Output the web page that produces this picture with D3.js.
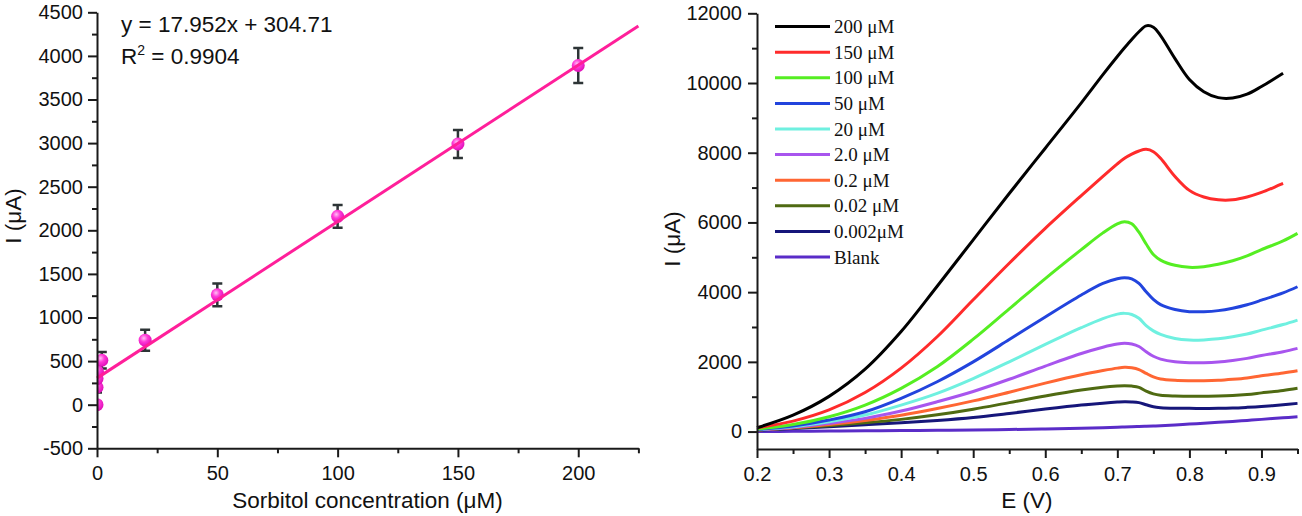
<!DOCTYPE html>
<html>
<head>
<meta charset="utf-8">
<script src="https://cdn.jsdelivr.net/npm/d3@7"></script>
<style>
  body { margin: 0; background: #fff; }
  svg { display: block; }
  .axis path, .axis line { stroke: #1a1a1a; stroke-width: 2; }
  .axis text { font-family: "Liberation Sans", Arial, sans-serif; font-size: 20px; fill: #111; }
  .title { font-family: "Liberation Sans", Arial, sans-serif; font-size: 22.5px; fill: #111; }
  .legend text { font-family: "Liberation Serif", "Times New Roman", serif; font-size: 19px; fill: #111; }
</style>
</head>
<body>
<svg id="chart"></svg>
<script>
// ---- calibration plot (left) ----
const concentrations = [0, 0.002, 0.02, 0.2, 2, 20, 50, 100, 150, 200]
const currents = [0, 200, 300, 380, 510, 740, 1260, 2160, 2990, 3890]
const currentErrors = [0, 60, 70, 80, 95, 120, 130, 130, 160, 200]
const fitSlope = 17.952
const fitIntercept = 304.71
const fitR2 = 0.9904
const concTicks = [0, 50, 100, 150, 200]
const currentTicks = [-500, 0, 500, 1000, 1500, 2000, 2500, 3000, 3500, 4000, 4500]

// ---- voltammograms (right) ----
const potentials = [0.20, 0.25, 0.30, 0.35, 0.40, 0.45, 0.50, 0.55, 0.60, 0.65, 0.68, 0.70, 0.71, 0.72, 0.73, 0.74, 0.75, 0.76, 0.78, 0.80, 0.82, 0.84, 0.86, 0.88, 0.90, 0.93, 0.95]
const seriesLabels = ['200 μM', '150 μM', '100 μM', '50 μM', '20 μM', '2.0 μM', '0.2 μM', '0.02 μM', '0.002μM', 'Blank']
const seriesColors = ['#000000', '#ff2b2b', '#55ee22', '#2244dd', '#6ff0e0', '#a855ee', '#ff6633', '#4f6a12', '#16167a', '#5a2cc8']
const i200 = [110, 470, 1010, 1790, 2870, 4170, 5500, 6830, 8130, 9430, 10240, 10760, 11010, 11250, 11470, 11640, 11600, 11360, 10700, 10100, 9750, 9580, 9570, 9680, 9900, 10280, null]
const i150 = [110, 300, 620, 1120, 1820, 2720, 3780, 4830, 5830, 6770, 7320, 7680, 7840, 7960, 8050, 8097, 8030, 7840, 7320, 6920, 6730, 6650, 6650, 6730, 6860, 7120, null]
const i100 = [70, 200, 425, 760, 1240, 1860, 2650, 3520, 4390, 5220, 5700, 5960, 6020, 5960, 5720, 5380, 5080, 4920, 4770, 4712, 4730, 4800, 4900, 5040, 5220, 5470, 5687]
const i50 = [60, 160, 330, 568, 953, 1430, 2000, 2640, 3290, 3920, 4250, 4385, 4413, 4380, 4250, 4010, 3790, 3640, 3500, 3440, 3440, 3470, 3540, 3640, 3770, 3980, 4155]
const i20 = [60, 140, 282, 473, 760, 1096, 1520, 2000, 2500, 2980, 3240, 3370, 3391, 3360, 3250, 3040, 2890, 2790, 2670, 2625, 2630, 2660, 2720, 2800, 2910, 3070, 3199]
const i2 = [55, 120, 235, 378, 588, 855, 1150, 1500, 1880, 2240, 2420, 2510, 2531, 2510, 2440, 2290, 2160, 2080, 2000, 1974, 1975, 1995, 2040, 2100, 2180, 2290, 2387]
const i02 = [50, 110, 200, 320, 470, 660, 880, 1130, 1390, 1630, 1750, 1820, 1842, 1830, 1780, 1670, 1570, 1510, 1470, 1458, 1458, 1470, 1500, 1540, 1600, 1680, 1745]
const i002 = [45, 100, 170, 250, 350, 480, 640, 830, 1020, 1190, 1270, 1305, 1314, 1305, 1270, 1160, 1080, 1040, 1020, 1015, 1015, 1020, 1035, 1065, 1110, 1180, 1240]
const i0002 = [40, 90, 140, 195, 252, 320, 405, 520, 645, 760, 815, 845, 855, 850, 830, 770, 710, 685, 668, 666, 665, 666, 675, 695, 720, 770, 809]
const iBlank = [0, 8, 15, 22, 30, 38, 45, 60, 75, 95, 110, 125, 130, 138, 145, 152, 160, 168, 190, 215, 240, 265, 290, 320, 350, 395, 425]
const seriesValues = [i200, i150, i100, i50, i20, i2, i02, i002, i0002, iBlank]
const potentialTicks = [0.2, 0.3, 0.4, 0.5, 0.6, 0.7, 0.8, 0.9]
const cvCurrentTicks = [0, 2000, 4000, 6000, 8000, 10000, 12000]

const svg = d3.select('#chart')
    .attr('width', 1302)
    .attr('height', 516)

function styleAxis(g) {
    g.attr('font-size', null).attr('font-family', null)
}

class CalibrationPlot {
    constructor(_svg) {
        this.svg = _svg
        this.initVis()
    }

    initVis() {
        let vis = this

        vis.xScale = d3.scaleLinear().domain([0, 225]).range([97, 638.4])
        vis.yScale = d3.scaleLinear().domain([-500, 4500]).range([448.3, 12.3])

        vis.chart = vis.svg.append('g')

        // marker gradient
        let grad = vis.svg.append('defs').append('radialGradient')
            .attr('id', 'ball')
            .attr('cx', '40%').attr('cy', '35%').attr('r', '65%')
        grad.append('stop').attr('offset', '0%').attr('stop-color', '#ffc2f4')
        grad.append('stop').attr('offset', '45%').attr('stop-color', '#ff3ad8')
        grad.append('stop').attr('offset', '100%').attr('stop-color', '#e010b8')

        vis.svg.select('defs').append('clipPath')
            .attr('id', 'leftClip')
            .append('rect')
                .attr('x', 97).attr('y', 0)
                .attr('width', 560).attr('height', 460)

        vis.renderVis()
    }

    renderVis() {
        let vis = this
        let pts = concentrations.map((c, i) => ({c: c, v: currents[i], e: currentErrors[i]}))

        // error bars
        let bars = vis.chart.append('g')
            .attr('clip-path', 'url(#leftClip)')
            .attr('stroke', '#2d3436')
            .attr('stroke-width', 2.5)
        bars.selectAll('.err')
            .data(pts.filter(d => d.e > 0))
            .join('path')
                .attr('class', 'err')
                .attr('fill', 'none')
                .attr('d', d => {
                    let x = vis.xScale(d.c), y0 = vis.yScale(d.v - d.e), y1 = vis.yScale(d.v + d.e)
                    return `M${x - 5},${y1}H${x + 5}M${x},${y1}V${y0}M${x - 5},${y0}H${x + 5}`
                })

        // markers
        vis.chart.append('g')
            .attr('clip-path', 'url(#leftClip)')
            .selectAll('circle')
            .data(pts)
            .join('circle')
                .attr('cx', d => vis.xScale(d.c))
                .attr('cy', d => vis.yScale(d.v))
                .attr('r', 6.5)
                .attr('fill', 'url(#ball)')

        // linear fit
        let fit = [0, 225].map(c => ({c: c, v: fitSlope * c + fitIntercept}))
        vis.chart.append('path')
            .datum(fit)
            .attr('fill', 'none')
            .attr('stroke', '#ff1f9a')
            .attr('stroke-width', 3)
            .attr('d', d3.line().x(d => vis.xScale(d.c)).y(d => vis.yScale(d.v)))

        // axes
        let minorY = d3.range(-250, 4500, 500)
        let minorX = [25, 75, 125, 175, 225]

        vis.chart.append('g')
            .attr('class', 'axis')
            .attr('transform', 'translate(0,448.3)')
            .call(d3.axisBottom(vis.xScale).tickValues(minorX).tickSize(5).tickSizeOuter(0).tickFormat(''))
            .call(styleAxis)
        vis.chart.append('g')
            .attr('class', 'axis')
            .attr('transform', 'translate(0,448.3)')
            .call(d3.axisBottom(vis.xScale).tickValues(concTicks).tickSize(9).tickSizeOuter(0).tickPadding(9).tickFormat(d => String(d)))
            .call(styleAxis)
            .call(g => g.select('.domain').remove())

        vis.chart.append('g')
            .attr('class', 'axis')
            .attr('transform', 'translate(97,0)')
            .call(d3.axisLeft(vis.yScale).tickValues(minorY).tickSize(5).tickSizeOuter(0).tickFormat(''))
            .call(styleAxis)
        vis.chart.append('g')
            .attr('class', 'axis')
            .attr('transform', 'translate(97,0)')
            .call(d3.axisLeft(vis.yScale).tickValues(currentTicks).tickSize(9).tickSizeOuter(0).tickPadding(5).tickFormat(d => String(d)))
            .call(styleAxis)
            .call(g => g.select('.domain').remove())

        // titles
        vis.chart.append('text')
            .attr('class', 'title')
            .attr('x', 367.5).attr('y', 508)
            .attr('text-anchor', 'middle')
            .text('Sorbitol concentration (μM)')
        vis.chart.append('text')
            .attr('class', 'title')
            .attr('transform', 'translate(21,216) rotate(-90)')
            .attr('text-anchor', 'middle')
            .text('I (μA)')

        // equation
        vis.chart.append('text')
            .attr('class', 'title')
            .attr('x', 121).attr('y', 32)
            .text(`y = ${fitSlope}x + ${fitIntercept}`)
        let r2 = vis.chart.append('text')
            .attr('class', 'title')
            .attr('x', 121).attr('y', 64)
        r2.append('tspan').text('R')
        r2.append('tspan').attr('dy', -9).attr('font-size', 14).text('2')
        r2.append('tspan').attr('dy', 9).text(` = ${fitR2}`)
    }
}

class VoltammogramPlot {
    constructor(_svg) {
        this.svg = _svg
        this.initVis()
    }

    initVis() {
        let vis = this

        vis.xScale = d3.scaleLinear().domain([0.2, 0.95]).range([757, 1297.5])
        vis.yScale = d3.scaleLinear().domain([-500, 12000]).range([449, 13.3])

        vis.chart = vis.svg.append('g')
        vis.renderVis()
    }

    renderVis() {
        let vis = this

        let series = seriesLabels.map((label, k) => ({
            label: label,
            color: seriesColors[k],
            values: potentials.map((e, i) => ({e: e, i: seriesValues[k][i]}))
        }))

        let line = d3.line()
            .defined(d => d.i !== null)
            .x(d => vis.xScale(d.e))
            .y(d => vis.yScale(d.i))
            .curve(d3.curveCatmullRom.alpha(0.5))

        // draw from blank upward so high curves sit on top
        vis.chart.selectAll('.curve')
            .data(series.slice().reverse())
            .join('path')
                .attr('class', 'curve')
                .attr('fill', 'none')
                .attr('stroke', d => d.color)
                .attr('stroke-width', 3)
                .attr('d', d => line(d.values))

        // axes
        let minorY = d3.range(1000, 12000, 2000)
        let minorX = [0.25, 0.35, 0.45, 0.55, 0.65, 0.75, 0.85, 0.95]

        vis.chart.append('g')
            .attr('class', 'axis')
            .attr('transform', 'translate(0,449)')
            .call(d3.axisBottom(vis.xScale).tickValues(minorX).tickSize(5).tickSizeOuter(0).tickFormat(''))
            .call(styleAxis)
        vis.chart.append('g')
            .attr('class', 'axis')
            .attr('transform', 'translate(0,449)')
            .call(d3.axisBottom(vis.xScale).tickValues(potentialTicks).tickSize(9).tickSizeOuter(0).tickPadding(9).tickFormat(d3.format('.1f')))
            .call(styleAxis)
            .call(g => g.select('.domain').remove())

        vis.chart.append('g')
            .attr('class', 'axis')
            .attr('transform', 'translate(757,0)')
            .call(d3.axisLeft(vis.yScale).tickValues(minorY).tickSize(5).tickSizeOuter(0).tickFormat(''))
            .call(styleAxis)
        vis.chart.append('g')
            .attr('class', 'axis')
            .attr('transform', 'translate(757,0)')
            .call(d3.axisLeft(vis.yScale).tickValues(cvCurrentTicks).tickSize(9).tickSizeOuter(0).tickPadding(6).tickFormat(d => String(d)))
            .call(styleAxis)
            .call(g => g.select('.domain').remove())

        vis.chart.append('text')
            .attr('class', 'title')
            .attr('x', 1027).attr('y', 508)
            .attr('text-anchor', 'middle')
            .text('E (V)')
        vis.chart.append('text')
            .attr('class', 'title')
            .attr('transform', 'translate(680,239) rotate(-90)')
            .attr('text-anchor', 'middle')
            .text('I (μA)')

        // legend
        let legend = vis.chart.append('g')
            .attr('class', 'legend')
            .selectAll('g')
            .data(series)
            .join('g')
                .attr('transform', (d, k) => `translate(775,${26.6 + k * 25.6})`)
        legend.append('line')
            .attr('x1', 0).attr('x2', 55)
            .attr('stroke', d => d.color)
            .attr('stroke-width', 3)
        legend.append('text')
            .attr('x', 59)
            .attr('y', 6.5)
            .text(d => d.label)
    }
}

new CalibrationPlot(svg)
new VoltammogramPlot(svg)
</script>
</body>
</html>
